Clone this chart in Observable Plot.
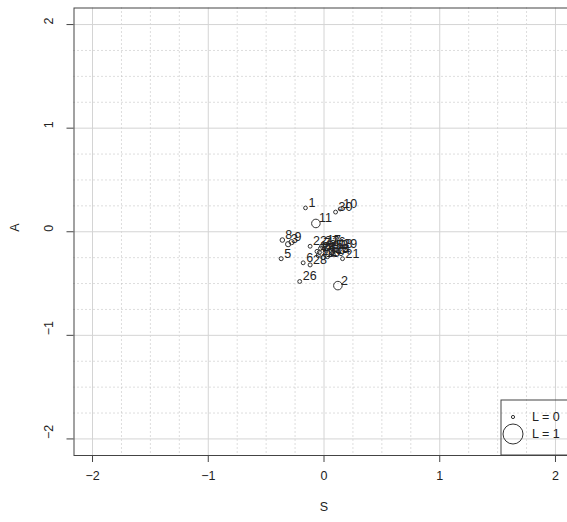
<!DOCTYPE html>
<html><head><meta charset="utf-8">
<script src="https://cdn.jsdelivr.net/npm/d3@7"></script>
<script src="https://cdn.jsdelivr.net/npm/@observablehq/plot@0.6"></script>
<style>html,body{margin:0;padding:0;overflow:hidden;background:#fff}#chart{width:567px;height:522px;overflow:hidden}</style>
</head><body><div id="chart"></div>
<script>
const ids = [1,2,3,4,5,6,7,8,9,10,11,12,13,14,15,16,17,18,19,20,21,22,23,24,25,26,27,28,29,30];
const S = [-0.16,0.12,-0.31,0.01,-0.37,-0.18,-0.03,-0.36,-0.28,0.14,-0.07,0.06,-0.05,0.08,-0.01,0.04,0.00,0.10,-0.06,0.03,0.16,-0.12,0.07,-0.04,0.02,-0.21,-0.02,-0.12,0.14,0.10];
const A = [0.23,-0.52,-0.12,-0.20,-0.26,-0.30,-0.16,-0.08,-0.10,0.22,0.08,-0.18,-0.23,-0.22,-0.25,-0.15,-0.13,-0.17,-0.19,-0.24,-0.26,-0.14,-0.21,-0.20,-0.18,-0.48,-0.14,-0.32,-0.17,0.19];
const L = [0.03,0.32,0.12,0.05,0.05,0.04,0.05,0.08,0.12,0.04,0.32,0.05,0.05,0.05,0.05,0.05,0.05,0.05,0.05,0.05,0.04,0.04,0.05,0.05,0.05,0.04,0.05,0.05,0.04,0.04];
const majorTicks = [-2,-1,0,1,2];
const minorTicks = [-1.75,-1.5,-1.25,-0.75,-0.5,-0.25,0.25,0.5,0.75,1.25,1.5,1.75];
const legendL = [0, 1];

const data = ids.map((id, i) => ({id: String(id), S: S[i], A: A[i], L: L[i]}));
const fmt = d3.format("d");
const mL = 73.5, mR = 7.5, mT = 7.5, mB = 67, W = 581, H = 522;

const chart = Plot.plot({
  width: W, height: H,
  marginLeft: mL, marginRight: mR, marginTop: mT, marginBottom: mB,
  x: {domain: [-2.16, 2.16]},
  y: {domain: [-2.16, 2.16]},
  r: {type: "linear", domain: [0, 1], range: [1.6, 10]},
  style: {fontFamily: "'Liberation Sans', Arial, sans-serif", fontSize: "12.5px", color: "#222", background: "white", maxWidth: "none"},
  marks: [
    Plot.ruleX(minorTicks, {x: d => d, stroke: "#bbb", strokeDasharray: "1,3"}),
    Plot.ruleY(minorTicks, {y: d => d, stroke: "#bbb", strokeDasharray: "1,3"}),
    Plot.ruleX(majorTicks, {x: d => d, stroke: "#d4d4d4"}),
    Plot.ruleY(majorTicks, {y: d => d, stroke: "#d4d4d4"}),
    Plot.axisX({ticks: majorTicks, tickSize: 7, tickPadding: 9, tickFormat: fmt, label: null, stroke: "#444", fill: "#222"}),
    Plot.axisY({ticks: majorTicks, tickSize: 7, tickFormat: () => "", label: null, stroke: "#444"}),
    Plot.text(majorTicks, {y: d => d, text: d => fmt(d), frameAnchor: "left", dx: -25, rotate: -90, fill: "#222"}),
    Plot.dot(data, {x: "S", y: "A", r: "L", stroke: "#333", fill: "none", strokeWidth: 1}),
    Plot.text(data, {x: "S", y: "A", text: "id", dx: 3, dy: -5, textAnchor: "start", fill: "#222"}),
    Plot.frame({stroke: "#444"}),
    Plot.text(["S"], {text: d => d, frameAnchor: "bottom", dy: 55, fill: "#222"}),
    Plot.text(["A"], {text: d => d, frameAnchor: "left", dx: -59.5, rotate: -90, fill: "#222"})
  ]
});
chart.style.maxWidth = "none";
chart.style.display = "block";
document.getElementById("chart").appendChild(chart);

// legend (bottom-right, transparent box)
const rs = chart.scale("r");
const svg = d3.select(chart);
const g = svg.append("g").attr("font-family", "'Liberation Sans', Arial, sans-serif").attr("font-size", 12.5).attr("text-anchor", "start");
const fx2 = W - mR, fy2 = H - mB;
g.append("rect").attr("x", 501).attr("y", 400).attr("width", fx2 - 501).attr("height", fy2 - 400)
  .attr("fill", "none").attr("stroke", "#444");
legendL.forEach((v, i) => {
  const cy = 417 + i * 17;
  g.append("circle").attr("cx", 513).attr("cy", cy).attr("r", rs.apply(v)).attr("fill", "none").attr("stroke", "#333");
  g.append("text").attr("x", 532).attr("y", cy).attr("dy", "0.35em").attr("fill", "#222").attr("text-anchor", "start").text("L = " + v);
});
</script>
</body></html>
